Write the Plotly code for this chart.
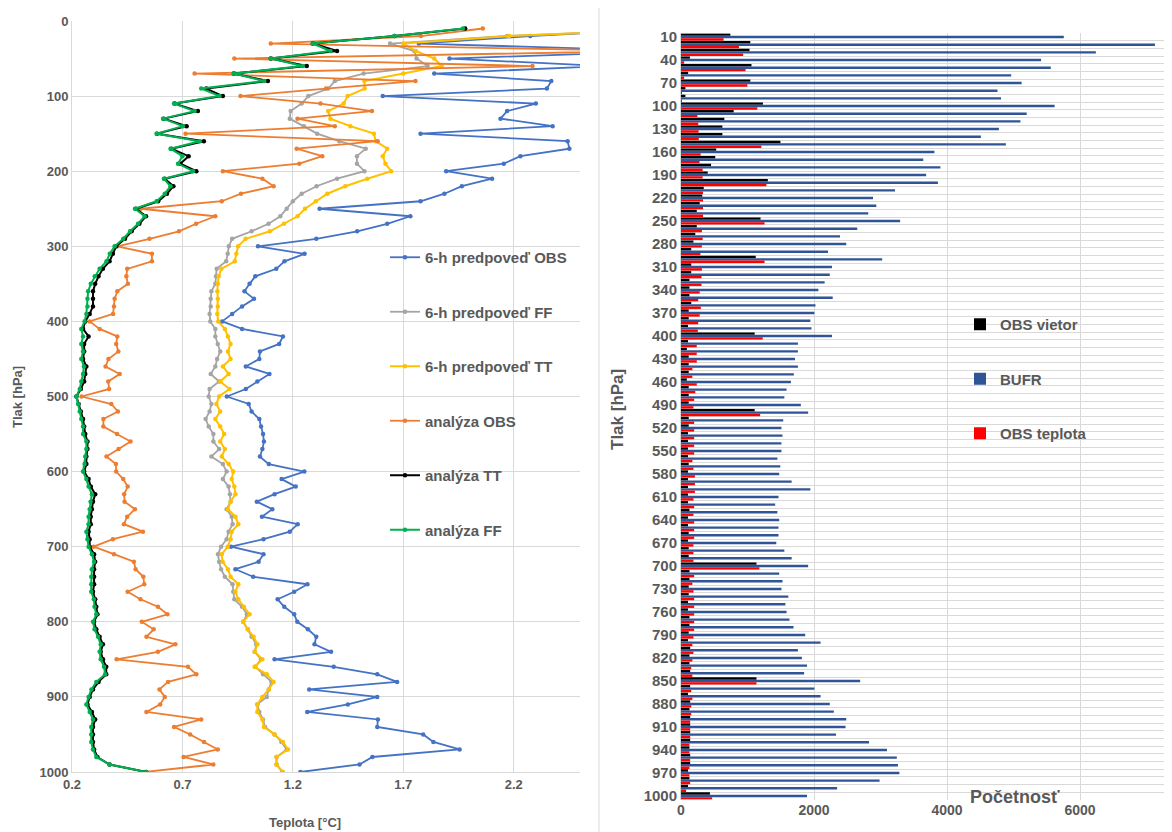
import plotly.graph_objects as go

levels = list(range(10, 1001, 10))

obs_6h = [2.9, 2.275, 1.77, 2.9, 1.909, 2.6, 1.84, 2.37, 2.35, 1.607,
          2.30, 2.17, 2.14, 2.376, 1.778, 2.444, 2.452, 2.23, 2.155, 1.894,
          2.102, 1.965, 1.886, 1.778, 1.321, 1.732, 1.627, 1.491, 1.306, 1.042,
          1.253, 1.162, 1.125, 1.03, 1.004, 0.981, 1.024, 0.97, 0.925, 0.88,
          0.97, 1.155, 1.138, 1.051, 1.048, 0.987, 1.094, 1.039, 0.987, 0.901,
          1.0, 1.013, 1.048, 1.056, 1.065, 1.069, 1.062, 1.051, 1.091, 1.252,
          1.149, 1.213, 1.117, 1.037, 1.107, 1.06, 1.222, 1.186, 1.067, 0.92,
          1.067, 1.045, 0.94, 1.02, 1.266, 1.206, 1.131, 1.161, 1.206, 1.22,
          1.268, 1.306, 1.298, 1.373, 1.117, 1.385, 1.582, 1.672, 1.274, 1.582,
          1.449, 1.265, 1.585, 1.582, 1.79, 1.836, 1.955, 1.56, 1.502, 1.234]

ff_6h = [3.0, 2.17, 1.64, 1.75, 1.76, 1.81, 1.52, 1.39, 1.36, 1.27,
         1.24, 1.19, 1.186, 1.25, 1.31, 1.41, 1.53, 1.49, 1.49, 1.524,
         1.40, 1.307, 1.24, 1.20, 1.172, 1.143, 1.09, 1.013, 0.925, 0.91,
         0.905, 0.898, 0.855, 0.852, 0.849, 0.831, 0.828, 0.828, 0.823, 0.826,
         0.849, 0.849, 0.86, 0.871, 0.857, 0.849, 0.828, 0.866, 0.823, 0.819,
         0.831, 0.823, 0.805, 0.819, 0.84, 0.84, 0.866, 0.831, 0.883, 0.90,
         0.883, 0.909, 0.915, 0.918, 0.90, 0.923, 0.927, 0.909, 0.90, 0.875,
         0.861, 0.866, 0.875, 0.892, 0.927, 0.93, 0.935, 0.97, 0.992, 0.975,
         0.996, 1.013, 1.034, 1.027, 1.056, 1.03, 1.065, 1.103, 1.091, 1.082,
         1.039, 1.048, 1.065, 1.074, 1.117, 1.148, 1.172, 1.126, 1.126, 1.152]

tt_6h = [3.0, 2.18, 1.70, 1.757, 1.84, 1.874, 1.70, 1.524, 1.525, 1.448,
         1.43, 1.36, 1.37, 1.46, 1.567, 1.575, 1.627, 1.607, 1.619, 1.645,
         1.537, 1.437, 1.356, 1.304, 1.255, 1.221, 1.16, 1.096, 0.986, 0.952,
         0.944, 0.937, 0.876, 0.864, 0.86, 0.858, 0.86, 0.86, 0.858, 0.862,
         0.892, 0.906, 0.918, 0.906, 0.918, 0.883, 0.909, 0.871, 0.913, 0.866,
         0.854, 0.871, 0.849, 0.871, 0.889, 0.871, 0.892, 0.878, 0.909, 0.93,
         0.923, 0.935, 0.94, 0.918, 0.906, 0.94, 0.953, 0.923, 0.918, 0.905,
         0.878, 0.882, 0.906, 0.918, 0.953, 0.94, 0.953, 0.978, 1.004, 0.975,
         0.996, 1.022, 1.039, 1.027, 1.062, 1.027, 1.082, 1.113, 1.091, 1.062,
         1.039, 1.039, 1.062, 1.069, 1.117, 1.155, 1.178, 1.126, 1.126, 1.155]

obs_an = [2.06, 1.78, 1.10, 2.8, 0.935, 2.285, 0.755, 1.755, 1.35, 0.963,
          1.325, 1.558, 1.221, 1.39, 0.714, 1.584, 1.217, 1.333, 1.229, 0.883,
          1.062, 1.113, 0.965, 0.878, 0.511, 0.849, 0.762, 0.684, 0.551, 0.405,
          0.562, 0.562, 0.45, 0.446, 0.453, 0.405, 0.393, 0.39, 0.386, 0.28,
          0.325, 0.405, 0.40, 0.41, 0.365, 0.352, 0.416, 0.364, 0.368, 0.243,
          0.378, 0.408, 0.342, 0.342, 0.404, 0.465, 0.411, 0.356, 0.399, 0.40,
          0.432, 0.452, 0.436, 0.438, 0.485, 0.45, 0.435, 0.521, 0.385, 0.298,
          0.39, 0.48, 0.488, 0.523, 0.527, 0.452, 0.51, 0.589, 0.632, 0.516,
          0.57, 0.537, 0.668, 0.589, 0.402, 0.725, 0.763, 0.635, 0.596, 0.62,
          0.599, 0.537, 0.785, 0.662, 0.735, 0.798, 0.86, 0.705, 0.84, 0.53]

tt_an = [1.98, 1.66, 1.29, 1.40, 1.10, 1.263, 0.933, 1.087, 0.808, 0.883,
         0.665, 0.770, 0.615, 0.719, 0.585, 0.797, 0.65, 0.728, 0.69, 0.763,
         0.62, 0.659, 0.63, 0.59, 0.49, 0.535, 0.505, 0.47, 0.44, 0.40,
         0.385, 0.37, 0.34, 0.32, 0.305, 0.295, 0.295, 0.295, 0.28, 0.26,
         0.25, 0.275, 0.255, 0.255, 0.25, 0.265, 0.26, 0.255, 0.24, 0.22,
         0.23, 0.24, 0.25, 0.255, 0.26, 0.27, 0.27, 0.265, 0.265, 0.255,
         0.275, 0.285, 0.305, 0.295, 0.29, 0.285, 0.285, 0.275, 0.28, 0.28,
         0.30, 0.305, 0.30, 0.30, 0.30, 0.295, 0.305, 0.31, 0.315, 0.30,
         0.31, 0.325, 0.34, 0.33, 0.34, 0.355, 0.355, 0.32, 0.295, 0.28,
         0.27, 0.29, 0.305, 0.295, 0.295, 0.295, 0.30, 0.315, 0.37, 0.536]

ff_an = [1.97, 1.66, 1.29, 1.37, 1.10, 1.245, 0.933, 1.07, 0.785, 0.868,
         0.662, 0.755, 0.612, 0.702, 0.583, 0.778, 0.646, 0.70, 0.68, 0.748,
         0.616, 0.646, 0.62, 0.583, 0.485, 0.529, 0.499, 0.463, 0.432, 0.393,
         0.371, 0.356, 0.325, 0.303, 0.285, 0.273, 0.27, 0.27, 0.265, 0.257,
         0.242, 0.25, 0.242, 0.25, 0.242, 0.254, 0.25, 0.242, 0.235, 0.22,
         0.228, 0.235, 0.242, 0.25, 0.25, 0.265, 0.265, 0.26, 0.257, 0.25,
         0.265, 0.275, 0.29, 0.284, 0.28, 0.275, 0.275, 0.265, 0.27, 0.275,
         0.29, 0.30, 0.29, 0.287, 0.287, 0.287, 0.299, 0.302, 0.31, 0.295,
         0.302, 0.318, 0.33, 0.325, 0.33, 0.345, 0.35, 0.31, 0.288, 0.275,
         0.265, 0.28, 0.295, 0.287, 0.287, 0.287, 0.295, 0.31, 0.37, 0.536]

obs_vietor = [742, 1042, 1030, 134, 1060, 108, 1042, 66, 66, 1232,
              792, 652, 622, 622, 1495, 529, 515, 452, 402, 1306,
              342, 320, 281, 237, 1196, 237, 215, 187, 154, 1124,
              154, 154, 127, 127, 127, 154, 116, 116, 105, 1108,
              105, 88, 116, 116, 116, 88, 116, 116, 116, 1108,
              116, 116, 105, 105, 105, 105, 116, 105, 105, 105,
              105, 105, 127, 105, 105, 116, 105, 116, 116, 1135,
              127, 127, 116, 116, 105, 105, 127, 127, 116, 105,
              138, 127, 127, 138, 1135, 138, 105, 138, 127, 138,
              138, 138, 138, 127, 138, 138, 105, 127, 105, 435]

bufr = [5756, 7127, 6238, 5414, 5560, 4965, 5122, 4759, 4812, 5618,
        5198, 5104, 4780, 4509, 4885, 3810, 3643, 3901, 3686, 3863,
        3218, 2887, 2937, 2816, 3295, 2650, 2391, 2485, 2210, 3025,
        2270, 2237, 2160, 2066, 2281, 2022, 2006, 1945, 1962, 2270,
        1758, 1758, 1714, 1758, 1697, 1653, 1587, 1554, 1802, 1912,
        1537, 1510, 1526, 1510, 1510, 1449, 1493, 1477, 1664, 1945,
        1466, 1416, 1449, 1477, 1466, 1466, 1433, 1554, 1664, 1912,
        1477, 1526, 1510, 1614, 1570, 1587, 1631, 1692, 1868, 2099,
        1758, 1818, 1895, 1851, 2694, 2006, 2099, 2237, 2298, 2485,
        2474, 2331, 2827, 3097, 3245, 3262, 3284, 2986, 2347, 1895]

obs_teplota = [640, 872, 935, 47, 971, 47, 998, 13, 13, 1148,
               247, 260, 265, 267, 1208, 295, 279, 325, 325, 1284,
               331, 331, 331, 331, 1256, 314, 325, 314, 292, 1256,
               314, 309, 309, 281, 259, 298, 281, 259, 253, 1229,
               237, 237, 237, 171, 171, 237, 215, 198, 187, 1190,
               198, 198, 198, 198, 198, 171, 187, 209, 209, 209,
               187, 198, 187, 198, 198, 198, 187, 187, 187, 1179,
               198, 171, 187, 198, 198, 198, 198, 198, 187, 171,
               187, 171, 154, 171, 1135, 154, 171, 154, 154, 138,
               138, 138, 127, 127, 138, 127, 127, 138, 77, 468]

# The page body has an 8px margin, so the figure is drawn 8px smaller
OFF = 8
W, H = 1172 - OFF, 832 - OFF


def px(x):
    return (x - OFF) / W


def py(y):
    return 1 - (y - OFF) / H


TXT = "#595959"
GRID = "#D9D9D9"
FONT = "Liberation Sans"

fig = go.Figure()

line_series = [
    ("6-h predpoveď OBS", obs_6h, "#4472C4", 1.8),
    ("6-h predpoveď FF", ff_6h, "#A5A5A5", 1.8),
    ("6-h predpoveď TT", tt_6h, "#FFC000", 2.0),
    ("analýza OBS", obs_an, "#ED7D31", 1.8),
    ("analýza TT", tt_an, "#000000", 2.0),
    ("analýza FF", ff_an, "#00B050", 2.0),
]
for i, (name, vals, col, lw) in enumerate(line_series):
    fig.add_trace(go.Scatter(
        x=vals, y=levels, name=name, mode="lines+markers",
        line=dict(color=col, width=lw), marker=dict(color=col, size=4.5),
        xaxis="x", yaxis="y", legend="legend", legendgroup="g%d" % i,
    ))

bar_series = [
    ("OBS vietor", obs_vietor, "#000000"),
    ("BUFR", bufr, "#2F5597"),
    ("OBS teplota", obs_teplota, "#FF0000"),
]
for i, (name, vals, col) in enumerate(bar_series):
    fig.add_trace(go.Bar(
        x=vals, y=levels, name=name, orientation="h",
        marker=dict(color=col, line=dict(width=0)),
        xaxis="x2", yaxis="y2", legend="legend2", legendgroup="b%d" % i,
    ))

tick_font = dict(family=FONT, size=13, color=TXT, weight="bold")
tick_font2 = dict(family=FONT, size=15, color=TXT, weight="bold")

fig.update_layout(
    width=W, height=H,
    margin=dict(l=0, r=0, t=0, b=0),
    paper_bgcolor="white", plot_bgcolor="white",
    barmode="group", bargap=0.06, bargroupgap=0,
    font=dict(family=FONT, color=TXT),
    xaxis=dict(domain=[px(72), px(580)], range=[0.2, 2.5],
               tickvals=[0.2, 0.7, 1.2, 1.7, 2.2], ticktext=["0.2", "0.7", "1.2", "1.7", "2.2"],
               showgrid=True, gridcolor=GRID, zeroline=False,
               showline=True, linecolor=GRID, ticks="", tickfont=tick_font,
               anchor="y", automargin=False),
    yaxis=dict(domain=[py(772), py(21)], range=[1000, 0],
               tickvals=list(range(0, 1001, 100)),
               showgrid=True, gridcolor=GRID, zeroline=False,
               showline=True, linecolor=GRID, ticks="", tickfont=tick_font,
               anchor="x", automargin=False),
    xaxis2=dict(domain=[px(681), 1.0], range=[0, 7383],
                tickvals=[0, 2000, 4000, 6000],
                showgrid=True, gridcolor=GRID, zeroline=False,
                showline=False, ticks="",
                tickfont=dict(family=FONT, size=14, color=TXT, weight="bold"),
                anchor="y2", automargin=False),
    yaxis2=dict(domain=[py(799.8), py(33.2)], range=[1005, 5],
                tickvals=list(range(10, 1001, 30)),
                showgrid=False, zeroline=False,
                showline=True, linecolor=GRID, ticks="", tickfont=tick_font2,
                minor=dict(tickvals=list(range(5, 1006, 10)), showgrid=True,
                           gridcolor=GRID, gridwidth=1, ticks=""),
                anchor="x2", automargin=False),
    legend=dict(x=px(385), y=py(241), xanchor="left", yanchor="top",
                traceorder="grouped", tracegroupgap=32, itemwidth=30,
                bgcolor="rgba(0,0,0,0)",
                font=dict(family=FONT, size=15, color=TXT, weight="bold")),
    legend2=dict(x=px(960), y=py(308), xanchor="left", yanchor="top",
                 traceorder="grouped", tracegroupgap=32, itemwidth=30,
                 bgcolor="rgba(0,0,0,0)",
                 font=dict(family=FONT, size=15, color=TXT, weight="bold")),
    showlegend=True,
)

annotations = [
    dict(text="Teplota [°C]", x=305, y=822, size=13, angle=0),
    dict(text="Tlak [hPa]", x=18, y=397, size=13, angle=-90),
    dict(text="Tlak [hPa]", x=617, y=410, size=17, angle=-90),
    dict(text="Početnosť", x=1015, y=797, size=18, angle=0),
]
for a in annotations:
    fig.add_annotation(text=a["text"], x=px(a["x"]), y=py(a["y"]), xref="paper", yref="paper",
                       xanchor="center", yanchor="middle", showarrow=False, textangle=a["angle"],
                       font=dict(family=FONT, size=a["size"], color=TXT, weight="bold"))

fig.add_shape(type="line", xref="paper", yref="paper", x0=px(599), x1=px(599), y0=0, y1=1,
              line=dict(color=GRID, width=1))

fig.write_html("out.html")
